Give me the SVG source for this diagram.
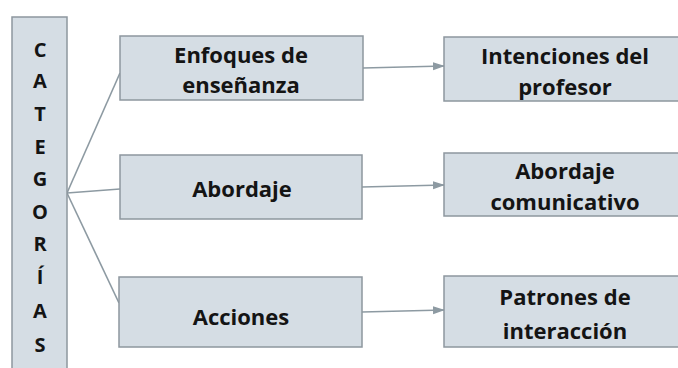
<svg xmlns="http://www.w3.org/2000/svg" width="678" height="368" viewBox="0 0 678 368">
<style>
.box{fill:#d5dde4;stroke:#8d979e;stroke-width:1.5}
.t{font-family:"Open Sans",Lato,sans-serif;font-weight:bold;font-size:22px;fill:#141414;text-anchor:middle}
.l{font-family:"Open Sans",Lato,sans-serif;font-weight:bold;font-size:20px;fill:#141414;text-anchor:middle}
.c{fill:none;stroke:#8d9aa2;stroke-width:1.6}
</style>
<defs>
<marker id="ah" markerWidth="12" markerHeight="10" refX="11" refY="5" orient="auto" markerUnits="userSpaceOnUse">
<path d="M0,1 L12,5 L0,9 Z" fill="#8d9aa2"/>
</marker>
</defs>
<rect width="678" height="368" fill="#ffffff"/>
<g id="connectors">
<path class="c" d="M67,193 L120,73"/>
<path class="c" d="M67,193 L120,189"/>
<path class="c" d="M67,193 L119,303"/>
<path class="c" d="M363,68 L444,66" marker-end="url(#ah)"/>
<path class="c" d="M362,187 L444,185" marker-end="url(#ah)"/>
<path class="c" d="M362,312 L444,310" marker-end="url(#ah)"/>
</g>
<g id="categorias">
<rect class="box" x="12" y="17" width="55" height="360"/>
<text class="l" x="40" y="57">C</text>
<text class="l" x="40" y="88">A</text>
<text class="l" x="40" y="121">T</text>
<text class="l" x="40" y="154">E</text>
<text class="l" x="40" y="186">G</text>
<text class="l" x="40" y="219">O</text>
<text class="l" x="40" y="251">R</text>
<text class="l" x="40" y="284">Í</text>
<text class="l" x="40" y="318">A</text>
<text class="l" x="40" y="352">S</text>
</g>
<g id="enfoques">
<rect class="box" x="120" y="36" width="243" height="64"/>
<text class="t" x="241" y="63">Enfoques de</text>
<text class="t" x="241" y="93">enseñanza</text>
</g>
<g id="abordaje">
<rect class="box" x="120" y="155" width="242" height="64"/>
<text class="t" x="242" y="197">Abordaje</text>
</g>
<g id="acciones">
<rect class="box" x="119" y="277" width="243" height="70"/>
<text class="t" x="241" y="325">Acciones</text>
</g>
<g id="intenciones">
<rect class="box" x="444" y="37" width="245" height="64"/>
<text class="t" x="565" y="64">Intenciones del</text>
<text class="t" x="565" y="95">profesor</text>
</g>
<g id="abordaje-comunicativo">
<rect class="box" x="444" y="153" width="245" height="63"/>
<text class="t" x="565" y="179">Abordaje</text>
<text class="t" x="565" y="210">comunicativo</text>
</g>
<g id="patrones">
<rect class="box" x="444" y="276" width="245" height="71"/>
<text class="t" x="565" y="305">Patrones de</text>
<text class="t" x="565" y="339">interacción</text>
</g>
</svg>
